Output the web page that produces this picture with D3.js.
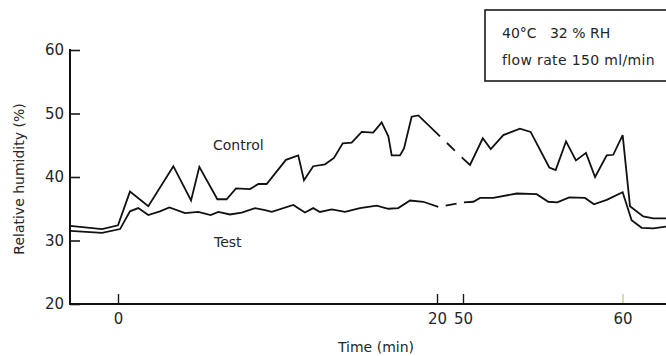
<!DOCTYPE html>
<html>
<head>
<meta charset="utf-8">
<script src="https://cdn.jsdelivr.net/npm/d3@7"></script>
<style>
  html, body { margin: 0; padding: 0; background: #fff; }
  svg { display: block; }
  text { font-family: "DejaVu Sans", sans-serif; fill: #262626; }
</style>
</head>
<body>
<svg id="chart" width="666" height="356"></svg>
<script>
// Relative humidity over time: control vs. test chamber (40°C, 32 % RH, 150 ml/min)
// Times in minutes; recording paused between ~20 and ~50 min.

const controlTimeA = [-3.0, -1.0, 0.0, 0.75, 1.9, 3.47, 4.58, 5.1, 6.23, 6.81, 7.4, 8.28, 8.8, 9.32, 10.53, 11.3, 11.66, 12.24, 12.98, 13.54, 14.09, 14.65, 15.28, 16.0, 16.53, 16.95, 17.16, 17.68, 17.93, 18.41, 18.83, 20.19];
const controlRhA   = [32.3, 31.8, 32.4, 37.7, 35.4, 41.7, 36.3, 41.6, 36.5, 36.5, 38.2, 38.1, 38.9, 38.9, 42.7, 43.4, 39.5, 41.7, 42.0, 43.0, 45.3, 45.4, 47.1, 47.0, 48.6, 46.4, 43.4, 43.4, 44.5, 49.5, 49.7, 46.4];

const controlTimeB = [49.92, 50.44, 51.24, 51.74, 52.53, 53.57, 54.24, 55.41, 55.81, 56.46, 57.08, 57.71, 58.28, 59.01, 59.42, 60.01, 60.47, 61.3, 61.93, 62.73];
const controlRhB   = [43.1, 41.9, 46.1, 44.4, 46.6, 47.6, 47.1, 41.5, 41.1, 45.6, 42.6, 43.8, 40.0, 43.4, 43.5, 46.6, 35.4, 33.8, 33.5, 33.5];

const testTimeA = [-3.0, -1.0, 0.13, 0.75, 1.27, 1.9, 2.63, 3.22, 4.2, 5.03, 5.81, 6.29, 7.02, 7.76, 8.59, 9.22, 9.64, 10.99, 11.72, 12.24, 12.66, 13.4, 14.23, 15.17, 16.22, 16.95, 17.57, 18.31, 19.14, 20.08];
const testRhA   = [31.5, 31.2, 31.8, 34.6, 35.1, 34.0, 34.6, 35.2, 34.3, 34.5, 34.0, 34.5, 34.1, 34.4, 35.1, 34.8, 34.5, 35.6, 34.4, 35.1, 34.5, 34.9, 34.5, 35.1, 35.5, 35.0, 35.1, 36.3, 36.1, 35.3];

const testTimeB = [50.06, 50.65, 51.07, 51.9, 53.37, 54.62, 55.35, 55.91, 56.66, 57.65, 58.21, 59.01, 60.01, 60.57, 61.2, 61.93, 62.73];
const testRhB   = [36.0, 36.1, 36.7, 36.7, 37.4, 37.3, 36.1, 36.0, 36.8, 36.7, 35.7, 36.4, 37.6, 33.2, 32.0, 31.9, 32.2];

const yTicks = [20, 30, 40, 50, 60];
const xTicks = [0, 20, 50, 60];
const seriesNames = ["Control", "Test"];
const conditionLines = ["40°C   32 % RH", "flow rate 150 ml/min"];
const yTitle = "Relative humidity (%)";
const xTitle = "Time (min)";

const zip = (ts, vs) => ts.map((t, i) => ({ t, v: vs[i] }));
const series = [
  { name: seriesNames[0], a: zip(controlTimeA, controlRhA), b: zip(controlTimeB, controlRhB) },
  { name: seriesNames[1], a: zip(testTimeA, testRhA), b: zip(testTimeB, testRhB) }
];

const svg = d3.select("#chart");
const W = 666;
const axisLeftX = 70, axisBottomY = 304, axisTopY = 50;
const pxPerMin = 15.95, zeroX = 118;

// Broken time axis: the unrecorded interval is squeezed into a short gap.
const breakFrom = d3.max(series, s => d3.max(s.a, d => d.t));
const breakTo = d3.min(series, s => d3.min(s.b, d => d.t));
const tick50X = 463;
const x = d3.scaleLinear()
  .domain([0, breakFrom, breakTo, 60])
  .range([zeroX, zeroX + breakFrom * pxPerMin, tick50X - (50 - breakTo) * pxPerMin, tick50X + 10 * pxPerMin]);

const y = d3.scaleLinear().domain([20, 60]).range([axisBottomY, axisTopY]);

// axes
const gy = svg.append("g").attr("transform", `translate(${axisLeftX},0)`)
  .call(d3.axisLeft(y).tickValues(yTicks).tickSize(-10).tickSizeOuter(0).tickPadding(6));
gy.select(".domain").remove();
gy.selectAll(".tick line").attr("stroke", "#1a1a1a").attr("stroke-width", 1.6);
gy.selectAll(".tick text").attr("font-size", 15).attr("font-family", "DejaVu Sans").attr("fill", "#262626");

const gx = svg.append("g").attr("transform", `translate(0,${axisBottomY})`)
  .call(d3.axisBottom(x).tickValues(xTicks).tickSize(-10).tickSizeOuter(0).tickPadding(9).tickFormat(d3.format("d")));
gx.select(".domain").remove();
gx.selectAll(".tick line").attr("stroke", d => d === 60 ? "#c9cf86" : "#1a1a1a").attr("stroke-width", 1.4);
gx.selectAll(".tick text").attr("font-size", 15).attr("font-family", "DejaVu Sans").attr("fill", "#262626");

svg.append("line").attr("x1", axisLeftX).attr("x2", axisLeftX)
  .attr("y1", axisTopY - 1).attr("y2", axisBottomY + 1)
  .attr("stroke", "#111").attr("stroke-width", 2);
svg.append("line").attr("x1", axisLeftX - 1).attr("x2", W)
  .attr("y1", axisBottomY).attr("y2", axisBottomY)
  .attr("stroke", "#111").attr("stroke-width", 2.2);

// axis titles
svg.append("text").attr("transform", `translate(24,${(axisTopY + axisBottomY) / 2 + 2}) rotate(-90)`)
  .attr("text-anchor", "middle").attr("font-size", 14).text(yTitle);
svg.append("text").attr("x", 376).attr("y", 352)
  .attr("text-anchor", "middle").attr("font-size", 14).text(xTitle);

// series
const line = d3.line().x(d => x(d.t)).y(d => y(d.v));
const plot = svg.append("g").attr("fill", "none").attr("stroke", "#111")
  .attr("stroke-width", 1.8).attr("stroke-linejoin", "miter").attr("stroke-miterlimit", 3);

series.forEach(s => {
  plot.append("path").attr("d", line(s.a));
  plot.append("path").attr("d", line(s.b));
  // single dash across the break
  const bridge = [s.a[s.a.length - 1], s.b[0]];
  const p = plot.append("path").attr("d", line(bridge));
  const L = p.node().getTotalLength();
  const dash = Math.min(11, L * 0.45);
  const gap = (L - dash) / 2;
  p.attr("stroke-dasharray", `0 ${gap} ${dash} ${L}`);
});

// series labels
svg.append("text").attr("x", 213).attr("y", 150).attr("font-size", 14).text(seriesNames[0]);
svg.append("text").attr("x", 214).attr("y", 247).attr("font-size", 14).text(seriesNames[1]);

// conditions box
svg.append("rect").attr("x", 485).attr("y", 10).attr("width", 190).attr("height", 71)
  .attr("fill", "#fff").attr("stroke", "#1a1a1a").attr("stroke-width", 1.6);
conditionLines.forEach((t, i) => {
  svg.append("text").attr("x", 502).attr("y", 38 + i * 27).attr("font-size", 14)
    .attr("letter-spacing", i === 1 ? 0.35 : 0)
    .attr("xml:space", "preserve").style("white-space", "pre").text(t);
});
</script>
</body>
</html>
